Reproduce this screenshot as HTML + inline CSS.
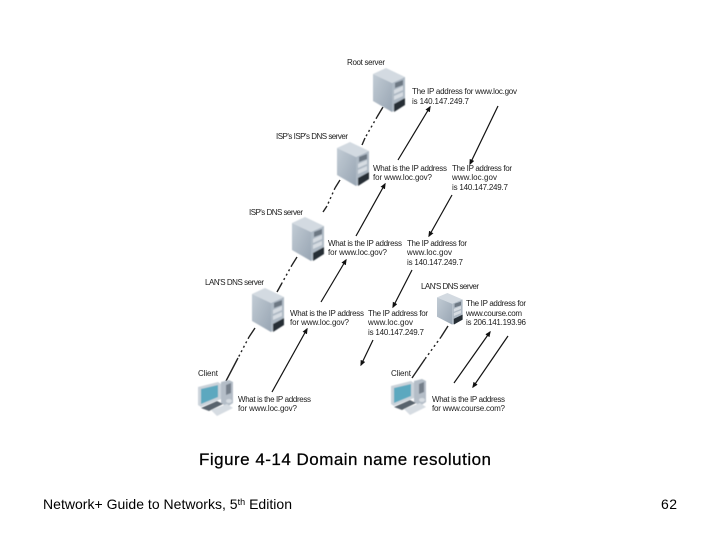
<!DOCTYPE html>
<html><head><meta charset="utf-8"><style>
html,body{margin:0;padding:0;background:#fff;width:720px;height:540px;overflow:hidden}
svg{display:block}
text{font-family:"Liberation Sans",sans-serif;fill:#000}
.l{font-size:8px;fill:#1c1c1c;filter:url(#b)}
</style></head><body>
<svg width="720" height="540" viewBox="0 0 720 540" xmlns="http://www.w3.org/2000/svg">
<defs>
<filter id="b" x="-10%" y="-20%" width="120%" height="140%"><feGaussianBlur stdDeviation="0.35"/></filter>
<filter id="s" x="-10%" y="-10%" width="120%" height="120%"><feGaussianBlur stdDeviation="0.4"/></filter>
<linearGradient id="f" x1="0" y1="0" x2="1" y2="1"><stop offset="0" stop-color="#c2ccd5"/><stop offset="1" stop-color="#98a5b3"/></linearGradient>
<g id="srv" filter="url(#s)">
<polygon points="0,6 13,0 32,9 19,15" fill="#d3dae1"/>
<polygon points="0,6 19,15 19,44 0,33" fill="url(#f)"/>
<polygon points="19,15 32,9 32,37 19,44" fill="#aeb9c4"/>
<polygon points="22,15 30,12 30,17 22,20" fill="#6d7883"/>
<polygon points="21,22 30,18 30,22 21,26" fill="#d6dce2"/>
<polygon points="21,28 30,24 30,28 21,32" fill="#d6dce2"/>
<polygon points="21,36 32,30 32,37 21,44" fill="#252d36"/>
</g>
<g id="cli" filter="url(#s)">
<polygon points="24,3 32,1 36,3 36,24 30,28 24,24" fill="#b4bdc7"/>
<polygon points="29,6 34,4 34,14 29,16" fill="#747f8a"/>
<polygon points="1,8 21,3 24,5 24,20 4,28 1,26" fill="#cbd3da"/>
<polygon points="4,10 21,6 21,18 4,25" fill="#5ba8bf"/>
<polygon points="4,29 20,22 26,25 12,32" fill="#59636d"/>
<polygon points="14,31 30,25 36,29 20,37" fill="#d6dce2"/>
<ellipse cx="32" cy="22" rx="3" ry="2" fill="#d6dce2"/>
</g>
<marker id="a" markerWidth="6" markerHeight="6" refX="4.6" refY="2.5" orient="auto" markerUnits="userSpaceOnUse"><polygon points="0,0 6,2.5 0,5" fill="#111"/></marker>
</defs>
<rect width="720" height="540" fill="#fff"/>

<g stroke="#222" stroke-width="1.4" fill="none">
<path d="M383 107L377 117"/><path d="M365 138L362 145"/><path d="M377 117L365 138" stroke-dasharray="2 3"/>
<path d="M340 180L335 188"/><path d="M323 212L327 206"/><path d="M335 188L327 206" stroke-dasharray="2 3"/>
<path d="M297 257L292 265"/><path d="M277 292L282 283"/><path d="M292 265L282 283" stroke-dasharray="2 3"/>
<path d="M255 328L249 337"/><path d="M226 381L238 358"/><path d="M249 337L238 358" stroke-dasharray="2 3"/>
<path d="M448 326L441 337"/><path d="M412 378L425 359"/><path d="M441 337L425 359" stroke-dasharray="2 3"/>
</g>

<g stroke="#111" stroke-width="1.2" fill="none">
<path d="M398 160L430 107" marker-end="url(#a)"/>
<path d="M498 106L470 164" marker-end="url(#a)"/>
<path d="M356 236L385 184" marker-end="url(#a)"/>
<path d="M452 195L429 236" marker-end="url(#a)"/>
<path d="M321 302L346 260" marker-end="url(#a)"/>
<path d="M412 270L393 307" marker-end="url(#a)"/>
<path d="M272 392L307 329" marker-end="url(#a)"/>
<path d="M373 340L361 365" marker-end="url(#a)"/>
<path d="M454 383L490 332" marker-end="url(#a)"/>
<path d="M508 336L473 387" marker-end="url(#a)"/>
</g>

<use href="#srv" x="373" y="68"/>
<use href="#srv" x="337" y="142"/>
<use href="#srv" x="292" y="217"/>
<use href="#srv" x="252" y="288"/>
<use href="#srv" transform="translate(437 293) scale(.8 .72)"/>
<use href="#cli" x="197" y="379"/>
<use href="#cli" x="390" y="378"/>

<text class="l" x="347" y="65" textLength="38">Root server</text>
<text class="l" x="276" y="139" textLength="72">ISP's ISP's DNS server</text>
<text class="l" x="249" y="215" textLength="54">ISP's DNS server</text>
<text class="l" x="205" y="285" textLength="59">LAN'S DNS server</text>
<text class="l" x="421" y="289" textLength="58">LAN'S DNS server</text>
<text class="l" x="198" y="376" textLength="20">Client</text>
<text class="l" x="391" y="376" textLength="20">Client</text>

<text class="l" x="412" y="94" textLength="105">The IP address for www.loc.gov</text>
<text class="l" x="412" y="104" textLength="57">is 140.147.249.7</text>

<text class="l" x="373" y="171" textLength="74">What is the IP address</text>
<text class="l" x="373" y="180" textLength="59">for www.loc.gov?</text>
<text class="l" x="452" y="171" textLength="60">The IP address for</text>
<text class="l" x="452" y="180" textLength="45">www.loc.gov</text>
<text class="l" x="452" y="190" textLength="56">is 140.147.249.7</text>

<text class="l" x="328" y="246" textLength="74">What is the IP address</text>
<text class="l" x="328" y="255" textLength="59">for www.loc.gov?</text>
<text class="l" x="407" y="246" textLength="60">The IP address for</text>
<text class="l" x="407" y="255" textLength="45">www.loc.gov</text>
<text class="l" x="407" y="265" textLength="56">is 140.147.249.7</text>

<text class="l" x="290" y="316" textLength="74">What is the IP address</text>
<text class="l" x="290" y="325" textLength="59">for www.loc.gov?</text>
<text class="l" x="368" y="316" textLength="60">The IP address for</text>
<text class="l" x="368" y="325" textLength="45">www.loc.gov</text>
<text class="l" x="368" y="335" textLength="56">is 140.147.249.7</text>

<text class="l" x="466" y="306" textLength="60">The IP address for</text>
<text class="l" x="466" y="316" textLength="56">www.course.com</text>
<text class="l" x="466" y="325" textLength="60">is 206.141.193.96</text>

<text class="l" x="238" y="402" textLength="73">What is the IP address</text>
<text class="l" x="238" y="411" textLength="59">for www.loc.gov?</text>
<text class="l" x="432" y="402" textLength="73">What is the IP address</text>
<text class="l" x="432" y="411" textLength="73">for www.course.com?</text>

<text x="199" y="465" font-size="17" textLength="292" stroke="#000" stroke-width="0.25">Figure 4-14 Domain name resolution</text>
<text x="43" y="509" font-size="14" textLength="249" fill="#222">Network+ Guide to Networks, 5<tspan font-size="9" dy="-4">th</tspan><tspan dy="4"> Edition</tspan></text>
<text x="661" y="509" font-size="14" textLength="16">62</text>
</svg>
</body></html>
